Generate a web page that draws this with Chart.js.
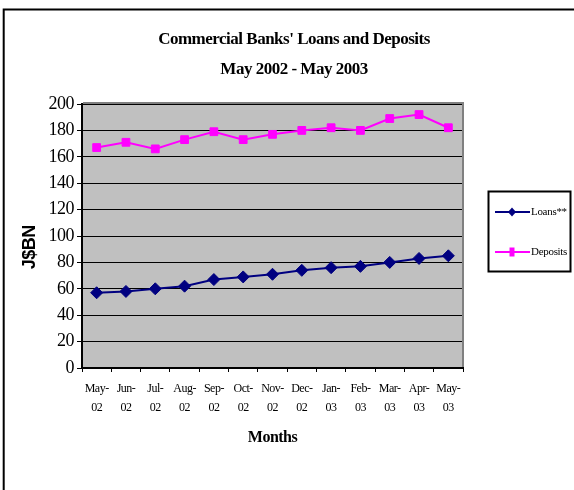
<!DOCTYPE html>
<html>
<head>
<meta charset="utf-8">
<style>
html,body{margin:0;padding:0;background:#fff;}
#wrap{width:574px;height:490px;position:relative;}
</style>
<script src="https://cdn.jsdelivr.net/npm/chart.js@4.4.0/dist/chart.umd.min.js"></script>
</head>
<body>
<div id="wrap"><canvas id="c" width="574" height="490"></canvas></div>
<script>
// ---- data ----
const monthLabels = ['May-','Jun-','Jul-','Aug-','Sep-','Oct-','Nov-','Dec-','Jan-','Feb-','Mar-','Apr-','May-'];
const yearLabels  = ['02','02','02','02','02','02','02','02','03','03','03','03','03'];
const loans    = [57, 58, 60, 62, 67, 69, 71, 74, 76, 77, 80, 83, 85];
const deposits = [167, 171, 166, 173, 179, 173, 177, 180, 182, 180, 189, 192, 182];
const seriesNames = ['Loans**', 'Deposits'];
const titleLines = ["Commercial Banks' Loans and Deposits", 'May 2002 - May 2003'];
const yAxisTitle = 'J$BN';
const xAxisTitle = 'Months';
const yMin = 0, yMax = 200, yStep = 20;

const categories = monthLabels.map((m, i) => [m, yearLabels[i]]);

// ---- plugins ----
const spacing = {
  id: 'spacing',
  beforeUpdate(chart){ chart.ctx.letterSpacing = '-0.5px'; },
  beforeLayout(chart){ chart.ctx.letterSpacing = '-0.5px'; },
  beforeDraw(chart){ chart.ctx.letterSpacing = '-0.5px'; }
};

const frame = {
  id: 'frame',
  beforeDraw(chart){
    const {ctx, chartArea: a} = chart;
    ctx.save();
    ctx.fillStyle = '#C0C0C0';
    ctx.fillRect(a.left, a.top, a.right - a.left, a.bottom - a.top);
    ctx.strokeStyle = '#000';
    ctx.lineWidth = 2;
    ctx.beginPath();
    ctx.moveTo(3.7, chart.height);
    ctx.lineTo(3.7, 9.5);
    ctx.lineTo(chart.width, 9.5);
    ctx.stroke();
    ctx.restore();
  },
  beforeDatasetsDraw(chart){
    const {ctx, chartArea: a} = chart;
    ctx.save();
    ctx.strokeStyle = '#808080';
    ctx.lineWidth = 2;
    ctx.beginPath();
    ctx.moveTo(a.left + 1, a.top - 1);
    ctx.lineTo(a.right, a.top - 1);
    ctx.lineTo(a.right, a.bottom - 1);
    ctx.stroke();
    ctx.restore();
  }
};

const boxLegend = {
  id: 'boxLegend',
  afterDraw(chart){
    const ctx = chart.ctx;
    ctx.save();
    ctx.letterSpacing = '-0.3px';
    ctx.strokeStyle = '#000';
    ctx.lineWidth = 2;
    ctx.strokeRect(488.5, 191.5, 82, 80);
    const ys = [212, 252];
    chart.data.datasets.forEach((ds, i) => {
      const y = ys[i];
      ctx.strokeStyle = ds.borderColor;
      ctx.lineWidth = 2;
      ctx.beginPath();
      ctx.moveTo(495, y);
      ctx.lineTo(530, y);
      ctx.stroke();
      ctx.fillStyle = ds.backgroundColor;
      ctx.beginPath();
      if (ds.pointStyle === 'rectRot') {
        ctx.moveTo(512, y - 4.5); ctx.lineTo(516, y); ctx.lineTo(512, y + 4.5); ctx.lineTo(508, y); ctx.closePath();
      } else {
        ctx.rect(509.5, y - 4.5, 5, 9);
      }
      ctx.fill();
      ctx.fillStyle = '#000';
      ctx.font = '11px "Liberation Serif", "Times New Roman", serif';
      ctx.textBaseline = 'middle';
      ctx.textAlign = 'left';
      ctx.fillText(ds.label, 531, y);
    });
    ctx.restore();
  }
};

const serif = '"Liberation Serif", "Times New Roman", serif';
const sans = '"Liberation Sans", Arial, sans-serif';

new Chart(document.getElementById('c'), {
  type: 'line',
  data: {
    labels: categories,
    datasets: [
      {
        label: seriesNames[0],
        data: loans,
        borderColor: '#000080',
        backgroundColor: '#000080',
        borderWidth: 2,
        pointStyle: 'rectRot',
        pointRadius: 6,
        pointBorderWidth: 1,
        pointBackgroundColor: '#000080',
        pointBorderColor: '#000080',
        tension: 0,
        yAxisID: 'y'
      },
      {
        label: seriesNames[1],
        data: deposits,
        borderColor: '#FF00FF',
        backgroundColor: '#FF00FF',
        borderWidth: 2,
        pointStyle: 'rect',
        pointRadius: 5.5,
        pointBorderWidth: 1,
        pointBackgroundColor: '#FF00FF',
        pointBorderColor: '#FF00FF',
        tension: 0,
        yAxisID: 'y'
      }
    ]
  },
  options: {
    responsive: false,
    animation: false,
    devicePixelRatio: 1,
    layout: { padding: { left: 14, right: 0, top: 0, bottom: 0 } },
    plugins: {
      legend: { display: false },
      tooltip: { enabled: false },
      title: {
        display: true,
        text: titleLines,
        color: '#000',
        font: { family: serif, size: 17, weight: 'bold', lineHeight: 1.76 },
        padding: { top: 25, bottom: 19.16 }
      }
    },
    scales: {
      x: {
        type: 'category',
        offset: true,
        grid: {
          display: true,
          drawOnChartArea: false,
          drawTicks: true,
          tickLength: 4,
          color: '#000',
          lineWidth: 1,
          offset: true
        },
        border: { display: true, color: '#000', width: 2 },
        ticks: {
          color: '#000',
          font: { family: serif, size: 12, lineHeight: 1.583 },
          padding: 7,
          maxRotation: 0,
          minRotation: 0,
          autoSkip: false
        },
        title: {
          display: true,
          text: xAxisTitle,
          color: '#000',
          font: { family: serif, size: 16, weight: 'bold', lineHeight: 1.2 },
          padding: { top: 0, bottom: 42.4 }
        },
        afterFit(scale){ scale.height = 122; }
      },
      y: {
        type: 'linear',
        position: 'left',
        min: yMin,
        max: yMax,
        ticks: {
          stepSize: yStep,
          color: '#000',
          font: { family: serif, size: 18 },
          padding: 3
        },
        grid: {
          color: '#000',
          lineWidth: 1,
          drawTicks: true,
          tickLength: 5,
          tickColor: '#000'
        },
        border: { display: true, color: '#000', width: 2 },
        title: {
          display: true,
          text: yAxisTitle + '     ',
          color: '#000',
          font: { family: sans, size: 18, weight: 'bold', lineHeight: 1.2 },
          padding: { top: 5, bottom: 0 }
        },
        afterFit(scale){ scale.width = 68; }
      },
      yRight: {
        type: 'linear',
        position: 'right',
        display: true,
        ticks: { display: false },
        grid: { display: false, drawTicks: false },
        border: { display: false },
        title: { display: false },
        afterFit(scale){ scale.width = 111; }
      }
    }
  },
  plugins: [spacing, frame, boxLegend]
});
</script>
</body>
</html>
